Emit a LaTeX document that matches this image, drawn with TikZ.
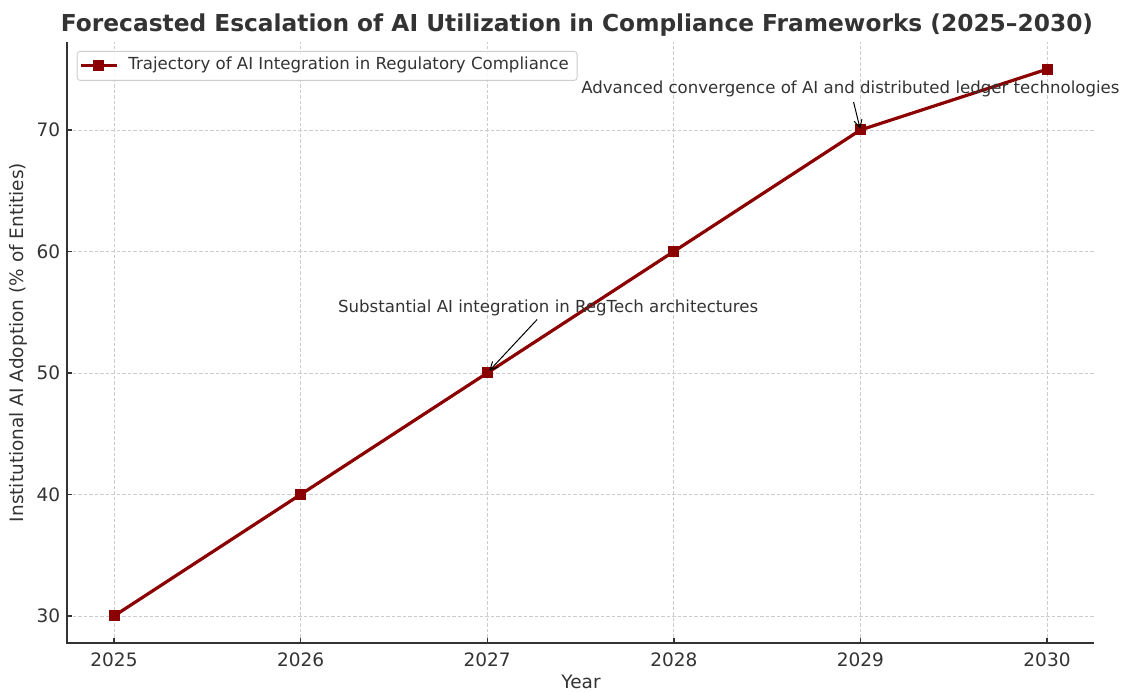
\documentclass[tikz,border=0pt]{standalone}
\usepackage{fontspec}
\setmainfont{DejaVu Sans}
\usetikzlibrary{arrows.meta}

\definecolor{trajred}{HTML}{8B0000}
\definecolor{gridgray}{HTML}{CCCCCC}
\definecolor{inkgray}{HTML}{333333}

\begin{document}
\begin{tikzpicture}[
    x=1pt, y=1pt,
    gridline/.style={draw=gridgray, line width=0.8pt, dash pattern=on 3.5pt off 2pt},
    spine/.style={draw=inkgray, line width=1.9pt},
    tickmark/.style={draw=inkgray, line width=1.4pt},
    ticklabel/.style={text=inkgray, font=\fontsize{18.5}{22}\selectfont, inner sep=0pt},
    marker/.style={rectangle, fill=trajred, minimum size=11pt, inner sep=0pt},
    trajectory/.style={draw=trajred, line width=3.2pt, line join=round},
    note/.style={text=inkgray, font=\fontsize{16.6}{19}\selectfont, inner sep=0pt},
    callout/.style={draw=black, line width=1pt, -{Straight Barb[length=8pt,width=8pt]}},
    legendbox/.style={draw=gridgray, fill=white, fill opacity=0.85, rounded corners=3pt, line width=0.8pt}
]
\useasboundingbox (0,0) rectangle (1123,692);

% title
\node[anchor=base, text=inkgray, font=\bfseries\fontsize{23.3}{27}\selectfont] (title) at (577,660)
  {Forecasted Escalation of AI Utilization in Compliance Frameworks (2025--2030)};

% axis labels
\node[ticklabel, rotate=90] (ylabel) at (18,349.5) {Institutional AI Adoption (\% of Entities)};
\node[ticklabel, anchor=base] (xlabel) at (581,3) {Year};

\begin{scope}[shift={(114pt,-288.5pt)}, x=186.6pt, y=12.15pt]
  % grid
  \foreach \i in {0,...,5}
    \draw[gridline] (\i,27.75) -- (\i,77.25);
  \foreach \v in {30,40,...,70}
    \draw[gridline] (-0.25,\v) -- (5.25,\v);

  % spines and ticks
  \draw[spine] (-0.25,77.25) -- (-0.25,27.75) -- (5.25,27.75);
  \foreach \yr [count=\i from 0] in {2025,...,2030} {
    \draw[tickmark] (\i,27.75) -- ++(0,5pt);
    \node[ticklabel, anchor=base] (x\yr) at ([yshift=-22.7pt]\i,27.75) {\yr};
  }
  \foreach \v in {30,40,...,70} {
    \draw[tickmark] (-0.25,\v) -- ++(5pt,0);
    \node[ticklabel, anchor=east] (y\v) at ([xshift=-7pt]-0.25,\v) {\v};
  }

  % data
  \foreach \yr/\v [count=\i from 0] in {2025/30,2026/40,2027/50,2028/60,2029/70,2030/75}
    \coordinate (c\yr) at (\i,\v);
  \draw[trajectory] (c2025) -- (c2026) -- (c2027) -- (c2028) -- (c2029) -- (c2030);
  \foreach \yr in {2025,...,2030}
    \node[marker] (p\yr) at (c\yr) {};

  % annotations
  \node[note, anchor=base west] (note27) at (1.2,55) {Substantial AI integration in RegTech architectures};
  \node[note, anchor=base west] (note29) at (2.503,73) {Advanced convergence of AI and distributed ledger technologies};
  \draw[callout, shorten <=5pt, shorten >=3pt] (note27) -- (p2027.center);
  \draw[callout, shorten <=5pt, shorten >=1pt] (note29) -- (p2029.center);
\end{scope}

% legend
\node[legendbox, anchor=north west, minimum width=500pt, minimum height=29pt] (legend) at (76.7,641) {};
\draw[trajectory] ([xshift=4pt]legend.west) -- ([xshift=40pt]legend.west);
\node[marker] (legmark) at ([xshift=22pt]legend.west) {};
\node[note, anchor=west] (legtext) at ([xshift=51.5pt,yshift=1pt]legend.west)
  {Trajectory of AI Integration in Regulatory Compliance};
\end{tikzpicture}
\end{document}
